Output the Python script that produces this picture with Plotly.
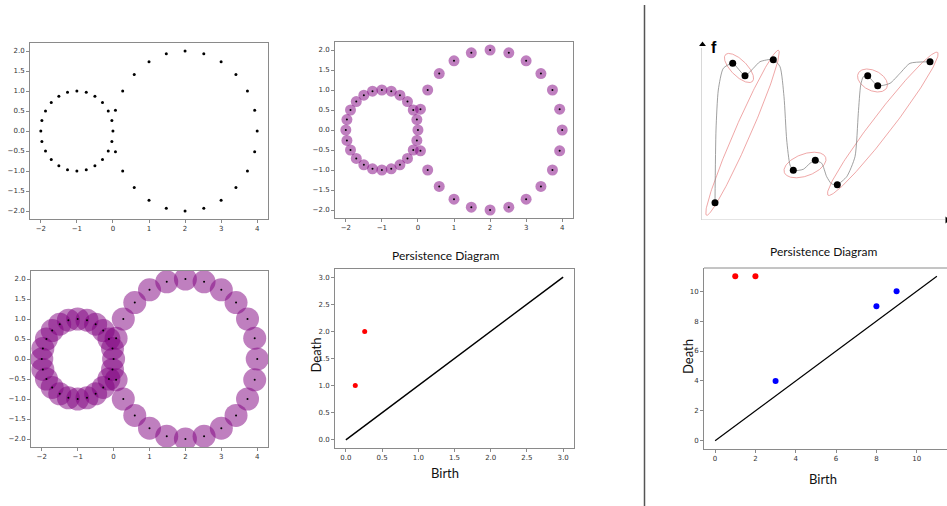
import plotly.graph_objects as go
import numpy as np

W, H = 947, 506

# ---------------- data ----------------
# point cloud: small circle (centre -1,0) and large circle (centre 2,0)
small_x = [0.00, -0.03, -0.13, -0.29, -0.50, -0.74, -1.00, -1.26, -1.50, -1.71, -1.87, -1.97,
           -2.00, -1.97, -1.87, -1.71, -1.50, -1.26, -1.00, -0.74, -0.50, -0.29, -0.13, -0.03]
small_y = [0.00, 0.26, 0.50, 0.71, 0.87, 0.97, 1.00, 0.97, 0.87, 0.71, 0.50, 0.26,
           0.00, -0.26, -0.50, -0.71, -0.87, -0.97, -1.00, -0.97, -0.87, -0.71, -0.50, -0.26]
big_x = [4.00, 3.93, 3.73, 3.41, 3.00, 2.52, 2.00, 1.48, 1.00, 0.59, 0.27, 0.07,
         0.07, 0.27, 0.59, 1.00, 1.48, 2.00, 2.52, 3.00, 3.41, 3.73, 3.93]
big_y = [0.00, 0.52, 1.00, 1.41, 1.73, 1.93, 2.00, 1.93, 1.73, 1.41, 1.00, 0.52,
         -0.52, -1.00, -1.41, -1.73, -1.93, -2.00, -1.93, -1.73, -1.41, -1.00, -0.52]
cloud_x = small_x + big_x
cloud_y = small_y + big_y

# persistence diagram of the point cloud
pd1_birth = [0.13, 0.26]
pd1_death = [1.0, 2.0]
pd1_diag = [0.0, 3.0]

# persistence diagram of the function
pd2_inf_birth = [1, 2]
pd2_inf_death = [11, 11]
pd2_fin_birth = [3, 8, 9]
pd2_fin_death = [4, 9, 10]
pd2_diag = [0, 11]

# sketched function f: critical points and curve knots
crit_x = [14, 31.7, 44, 72.3, 92.3, 114.3, 136.3, 166.7, 176.7, 229]
crit_f = [17.3, 156.7, 144.3, 160.3, 49.7, 59.7, 35.3, 144.3, 134.3, 158.3]
curve_x = [14, 15, 17.3, 22.3, 31.7, 44, 52.3, 59, 72.3, 79, 83, 85.7, 89, 92.3,
           102.3, 109, 114, 120.7, 125.7, 130.7, 136.3, 145.7, 154, 157.3, 159.7,
           162.3, 166.5, 176.7, 189, 199, 209, 229]
curve_f = [17.3, 90, 130, 151.7, 156.7, 144.3, 151.7, 158.3, 160.5, 153.3, 123.3, 80,
           55, 49.5, 50.7, 56.7, 59.7, 56.7, 43.3, 36, 35.5, 43.3, 63.3, 106.7, 135,
           143.3, 144.3, 134.2, 136.7, 146.7, 156.7, 158.2]
# pairing ellipses: centre x, centre f, semi-major, semi-minor, angle (deg)
ellipse_cx = [38, 41.5, 104, 181.8, 171.5]
ellipse_cf = [152, 87.2, 55, 96.2, 139.5]
ellipse_a = [19, 90, 22, 90, 16]
ellipse_b = [8, 8, 11, 10, 10]
ellipse_ang = [-45, 66.4, 20, 52.5, -27]

# ---------------- layout helpers ----------------
def dxp(l, r):
    return [l / W, min(r / W, 1.0)]

def dyp(t, b):
    return [1 - b / H, 1 - t / H]

SPINE = "#8a8a8a"
TICKC = "#333333"
TICKFONT = dict(family="DejaVu Sans", size=7, color=TICKC)

def ax(domain, rng, dtick, fmt, anchor, mirror=True):
    return dict(domain=domain, range=rng, dtick=dtick, tickformat=fmt, anchor=anchor,
                showline=True, mirror=mirror, linecolor=SPINE, linewidth=1,
                ticks="outside", ticklen=3, tickwidth=1, tickcolor=SPINE,
                tickfont=TICKFONT, showgrid=False, zeroline=False, fixedrange=True)

fig = go.Figure()

PURPLE = "rgba(128,0,128,0.5)"

# panel 1: point cloud
fig.add_trace(go.Scatter(x=cloud_x, y=cloud_y, mode="markers", xaxis="x", yaxis="y",
                         marker=dict(size=3, color="black"), hoverinfo="skip"))
# panel 2: small balls
fig.add_trace(go.Scatter(x=cloud_x, y=cloud_y, mode="markers", xaxis="x2", yaxis="y2",
                         marker=dict(size=11, color=PURPLE, line=dict(width=0)), hoverinfo="skip"))
fig.add_trace(go.Scatter(x=cloud_x, y=cloud_y, mode="markers", xaxis="x2", yaxis="y2",
                         marker=dict(size=2, color="black"), hoverinfo="skip"))
# panel 3: large balls
fig.add_trace(go.Scatter(x=cloud_x, y=cloud_y, mode="markers", xaxis="x3", yaxis="y3",
                         marker=dict(size=23, color=PURPLE, line=dict(width=0)), hoverinfo="skip"))
fig.add_trace(go.Scatter(x=cloud_x, y=cloud_y, mode="markers", xaxis="x3", yaxis="y3",
                         marker=dict(size=2, color="black"), hoverinfo="skip"))
# panel 4: persistence diagram
fig.add_trace(go.Scatter(x=pd1_diag, y=pd1_diag, mode="lines", xaxis="x4", yaxis="y4",
                         line=dict(color="black", width=1.5), hoverinfo="skip"))
fig.add_trace(go.Scatter(x=pd1_birth, y=pd1_death, mode="markers", xaxis="x4", yaxis="y4",
                         marker=dict(size=5, color="#ff0000"), hoverinfo="skip"))

# panel 5: sketch
t = np.linspace(0, 2 * np.pi, 200)
for cx, cf, a, b, ang in zip(ellipse_cx, ellipse_cf, ellipse_a, ellipse_b, ellipse_ang):
    th = np.deg2rad(ang)
    ex = cx + a * np.cos(t) * np.cos(th) - b * np.sin(t) * np.sin(th)
    ey = cf + a * np.cos(t) * np.sin(th) + b * np.sin(t) * np.cos(th)
    fig.add_trace(go.Scatter(x=ex, y=ey, mode="lines", xaxis="x5", yaxis="y5",
                             line=dict(color="rgba(232,130,130,0.7)", width=1),
                             hoverinfo="skip", cliponaxis=False))
fig.add_trace(go.Scatter(x=curve_x, y=curve_f, mode="lines", xaxis="x5", yaxis="y5",
                         line=dict(color="#888888", width=0.8, shape="spline", smoothing=0.6),
                         hoverinfo="skip", cliponaxis=False))
fig.add_trace(go.Scatter(x=crit_x, y=crit_f, mode="markers", xaxis="x5", yaxis="y5",
                         marker=dict(size=7, color="black"), hoverinfo="skip", cliponaxis=False))
# arrow heads of the sketch axes
fig.add_trace(go.Scatter(x=[1.5], y=[175.5], mode="markers", xaxis="x5", yaxis="y5",
                         marker=dict(size=6, color="black", symbol="triangle-up"),
                         hoverinfo="skip", cliponaxis=False))
fig.add_trace(go.Scatter(x=[246], y=[0], mode="markers", xaxis="x5", yaxis="y5",
                         marker=dict(size=6, color="black", symbol="triangle-right"),
                         hoverinfo="skip", cliponaxis=False))

# panel 6: persistence diagram of the function
fig.add_trace(go.Scatter(x=pd2_diag, y=pd2_diag, mode="lines", xaxis="x6", yaxis="y6",
                         line=dict(color="black", width=1.2), hoverinfo="skip"))
fig.add_trace(go.Scatter(x=pd2_inf_birth, y=pd2_inf_death, mode="markers", xaxis="x6", yaxis="y6",
                         marker=dict(size=6, color="#ff0000"), hoverinfo="skip"))
fig.add_trace(go.Scatter(x=pd2_fin_birth, y=pd2_fin_death, mode="markers", xaxis="x6", yaxis="y6",
                         marker=dict(size=6, color="#0000ff"), hoverinfo="skip"))

layout = dict(
    width=W, height=H, margin=dict(l=0, r=0, t=0, b=0),
    paper_bgcolor="white", plot_bgcolor="white", showlegend=False,
    xaxis=ax(dxp(30, 268), [-2.3, 4.3], 1, "d", "y"),
    yaxis=ax(dyp(43, 219), [-2.2, 2.2], 0.5, ".1f", "x"),
    xaxis2=ax(dxp(335, 573), [-2.3, 4.3], 1, "d", "y2"),
    yaxis2=ax(dyp(42, 218), [-2.2, 2.2], 0.5, ".1f", "x2"),
    xaxis3=ax(dxp(31, 268), [-2.3, 4.3], 1, "d", "y3"),
    yaxis3=ax(dyp(271, 447), [-2.2, 2.2], 0.5, ".1f", "x3"),
    xaxis4=ax(dxp(335, 574), [-0.15, 3.15], 0.5, ".1f", "y4"),
    yaxis4=ax(dyp(269, 448), [-0.15, 3.15], 0.5, ".1f", "x4"),
    xaxis5=dict(domain=dxp(701, 947), range=[0, 246], anchor="y5", visible=False, fixedrange=True),
    yaxis5=dict(domain=dyp(40, 220), range=[0, 180], anchor="x5", visible=False, fixedrange=True),
    xaxis6=ax(dxp(704, 947), [-0.55, 11.5], 2, "d", "y6", mirror=False),
    yaxis6=ax(dyp(268, 449), [-0.55, 11.55], 2, "d", "x6", mirror=False),
)
fig.update_layout(**layout)

shapes = [
    # divider
    dict(type="line", xref="paper", yref="paper", x0=644.5 / W, x1=644.5 / W,
         y0=0, y1=1 - 5 / H, line=dict(color="#555555", width=1.5)),
    # top spine of panel 6
    dict(type="line", xref="x6 domain", yref="y6 domain", x0=0, x1=1, y0=1, y1=1,
         line=dict(color=SPINE, width=1)),
    # sketch axes
    dict(type="line", xref="x5", yref="y5", x0=0.5, x1=0.5, y0=0, y1=172,
         line=dict(color="#d8d8d8", width=1)),
    dict(type="line", xref="x5", yref="y5", x0=0.5, x1=244, y0=0, y1=0,
         line=dict(color="#c8c8c8", width=1)),
]
fig.update_layout(shapes=shapes)

def ann(text, x, y, size=12, angle=0):
    return dict(text=text, x=x / W, y=1 - y / H,
                xref="paper", yref="paper", showarrow=False, xanchor="center",
                yanchor="middle", textangle=angle,
                font=dict(family="Lato", size=size, color="#111111"))

fig.update_layout(annotations=[
    ann("Persistence Diagram", 445, 255),
    ann("Death", 315, 355.5, size=13, angle=-90),
    ann("Birth", 445, 473, size=13),
    ann("Persistence Diagram", 823, 251),
    ann("Death", 688, 357, size=13, angle=-90),
    ann("Birth", 823, 479, size=13),
    dict(text="<b>f</b>", x=12.5, y=172, xref="x5", yref="y5",
         showarrow=False, xanchor="center", yanchor="middle",
         font=dict(family="Liberation Sans", size=16, color="black")),
])

fig.write_html("out.html", config={"displayModeBar": False},
               post_script="document.body.style.margin='0';document.body.style.overflow='hidden';")
